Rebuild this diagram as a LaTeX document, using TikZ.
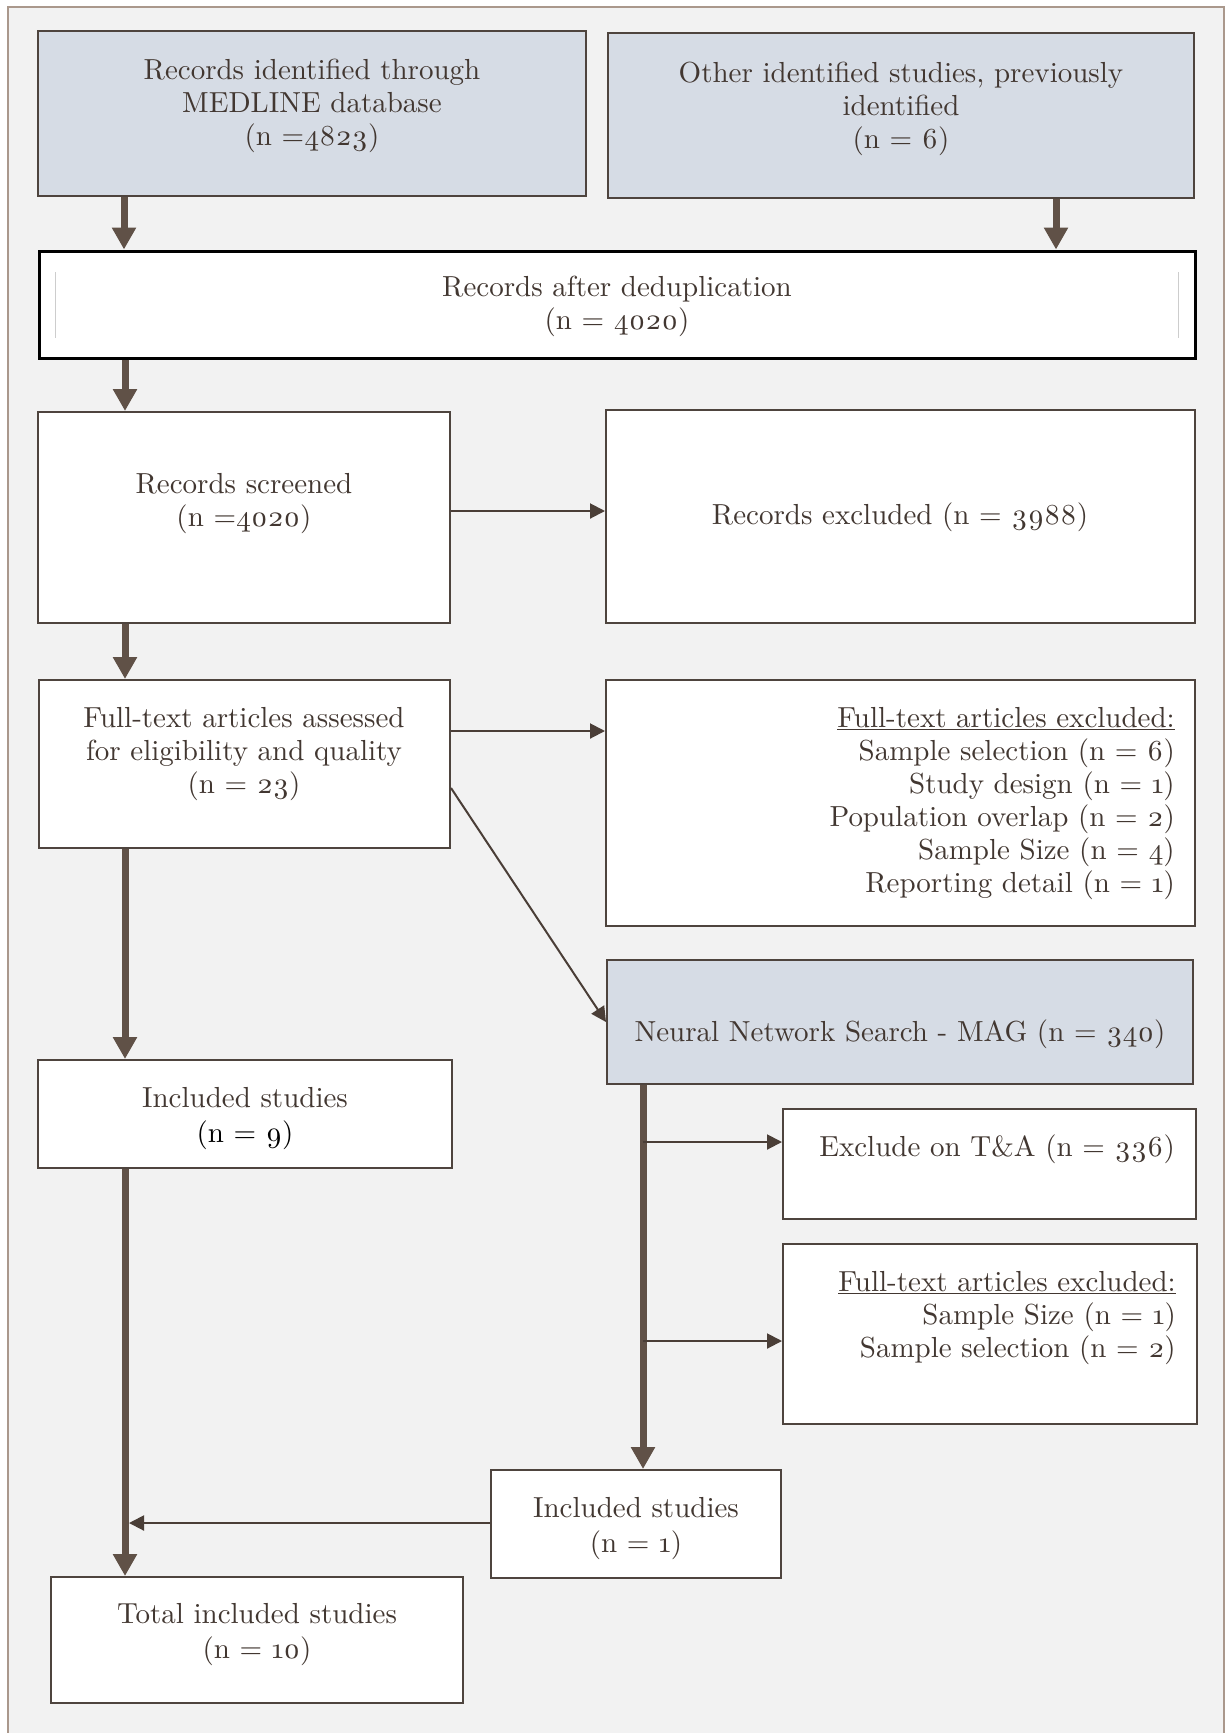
\documentclass[tikz,border=0pt]{standalone}
\usepackage{fontspec}
\setmainfont{lmroman10-regular.otf}[Numbers=OldStyle]
\usetikzlibrary{arrows.meta,fit}
\definecolor{bgC}{RGB}{242,242,242}
\definecolor{frameC}{RGB}{170,152,140}
\definecolor{boxC}{RGB}{78,68,62}
\definecolor{txtC}{RGB}{66,55,49}
\definecolor{thickC}{RGB}{96,81,71}
\definecolor{thinC}{RGB}{74,62,55}
\definecolor{blueC}{RGB}{214,220,229}
\definecolor{sepC}{RGB}{205,205,205}
\begin{document}
\begin{tikzpicture}[x=1pt,y=-1pt,
  bx/.style={draw=boxC,line width=2pt,fill=white,inner sep=0pt},
  bbx/.style={bx,fill=blueC},
  tx/.style={text=txtC,font=\fontsize{29}{33}\selectfont,inner sep=0pt,anchor=base,align=center},
  txr/.style={tx,anchor=base east,align=right},
  tk/.style={draw=thickC,line width=7pt,-{Triangle[width=23pt,length=22pt]}},
  tn/.style={draw=thinC,line width=2pt,-{Triangle[width=15pt,length=15pt]}}]
\useasboundingbox (0,0) rectangle (1225,1733);
\fill[white] (0,0) rectangle (1225,1733);
\fill[bgC] (8,7) rectangle (1225,1733);
\draw[frameC,line width=1.5pt] (8,1733) -- (8,7) -- (1224.2,7) -- (1224.2,1733);

% boxes
\node[bbx,fit={(38,31)(586,196)}] (b1) {};
\node[bbx,fit={(608,33)(1194,198)}] (b2) {};
\node[draw=black,line width=3pt,fill=white,inner sep=0pt,fit={(39,251)(1195,358)}] (dd) {};
\draw[sepC,line width=1pt] (55,272) -- (55,338);
\draw[sepC,line width=1pt] (1178,272) -- (1178,338);
\node[bx,fit={(38,412)(450,623)}] (scr) {};
\node[bx,fit={(606,410)(1195,623)}] (rex) {};
\node[bx,fit={(39,680)(450,848)}] (ft) {};
\node[bx,fit={(606,680)(1195,926)}] (fte) {};
\node[bbx,fit={(607,960)(1193,1084)}] (nn) {};
\node[bx,fit={(38,1060)(452,1168)}] (inc) {};
\node[bx,fit={(783,1109)(1196,1219)}] (ta) {};
\node[bx,fit={(783,1244)(1197,1424)}] (fte2) {};
\node[bx,fit={(491,1470)(781,1578)}] (inc1) {};
\node[bx,fit={(51,1577)(463,1703)}] (tot) {};

% texts (anchor = baseline of the last line)
\node[tx] (t1) at (312,145) {Records identified through\\MEDLINE database\\(n =4823)};
\node[tx] (t2) at (901,148) {Other identified studies, previously\\identified\\(n = 6)};
\node[tx] (t3) at (617,329) {Records after deduplication\\(n = 4020)};
\node[tx] (t4) at (244,526) {Records screened\\(n =4020)};
\node[tx] (t5) at (900,524) {Records excluded (n = 3988)};
\node[tx] (t6) at (244,793) {Full-text articles assessed\\for eligibility and quality\\(n = 23)};
\node[txr] (t7) at (1175,892) {\underline{Full-text articles excluded:}\\Sample selection (n = 6)\\Study design (n = 1)\\Population overlap (n = 2)\\Sample Size (n = 4)\\Reporting detail (n = 1)};
\node[tx] (t8) at (900,1041) {Neural Network Search - MAG (n = 340)};
\node[tx] (t9) at (245,1142) {Included studies\\[2pt]\textcolor{black}{(n = 9)}};
\node[txr] (t10) at (1175,1156) {Exclude on T\&A (n = 336)};
\node[txr] (t11) at (1176,1357) {\underline{Full-text articles excluded:}\\Sample Size (n = 1)\\Sample selection (n = 2)};
\node[tx] (t12) at (636,1552) {Included studies\\[2pt](n = 1)};
\node[tx] (t13) at (257,1658) {Total included studies\\[2pt](n = 10)};

% column / row helpers
\coordinate (cL1) at (124,0);
\coordinate (cL) at (125,0);
\coordinate (cLe) at (129,0);
\coordinate (cR) at (1056,0);
\coordinate (cN) at (643,0);
\coordinate (r1) at (0,511);
\coordinate (r2) at (0,731);
\coordinate (r3a) at (0,788);
\coordinate (r3b) at (0,1022);
\coordinate (r4) at (0,1142);
\coordinate (r5) at (0,1341);
\coordinate (r6) at (0,1523);

% thick arrows
\draw[tk] (b1.south -| cL1) -- (dd.north -| cL1);
\draw[tk] (b2.south -| cR) -- (dd.north -| cR);
\draw[tk] (dd.south -| cL) -- (scr.north -| cL);
\draw[tk] (scr.south -| cL) -- (ft.north -| cL);
\draw[tk] (ft.south -| cL) -- (inc.north -| cL);
\draw[tk] (inc.south -| cL) -- (tot.north -| cL);
\draw[tk] (nn.south -| cN) -- (inc1.north -| cN);

% thin arrows
\draw[tn] (scr.east |- r1) -- (rex.west |- r1);
\draw[tn] (ft.east |- r2) -- (fte.west |- r2);
\draw[tn] (ft.east |- r3a) -- (nn.west |- r3b);
\draw[tn] (cN |- r4) -- (ta.west |- r4);
\draw[tn] (cN |- r5) -- (fte2.west |- r5);
\draw[tn] (inc1.west |- r6) -- (cLe |- r6);
\end{tikzpicture}
\end{document}
